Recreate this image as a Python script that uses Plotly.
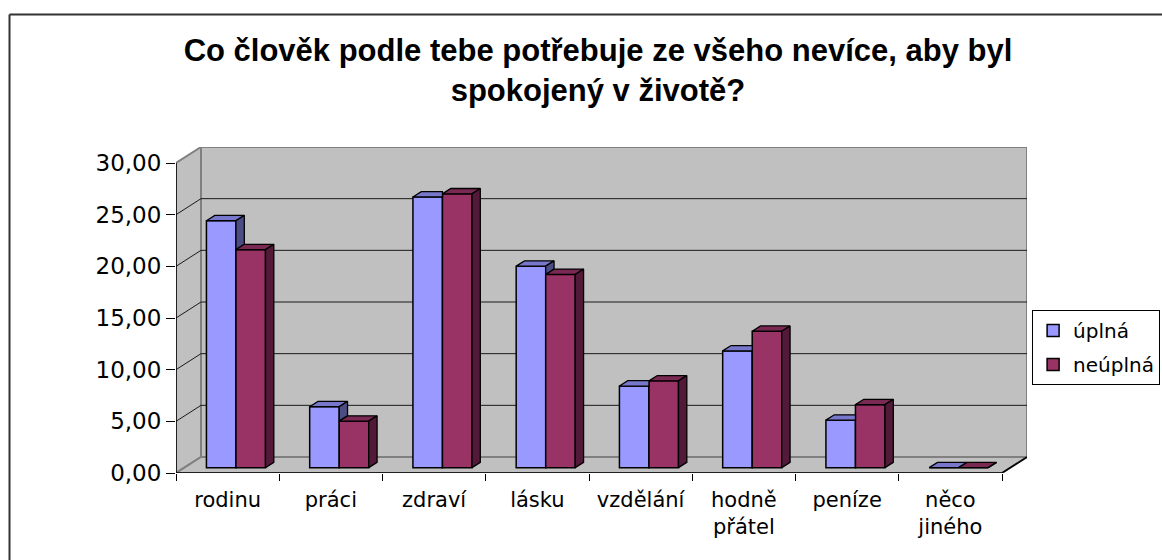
import plotly.graph_objects as go

# ---- data -------------------------------------------------------------
categories = ["rodinu", "práci", "zdraví", "lásku", "vzdělání",
              "hodně<br>přátel", "peníze", "něco<br>jiného"]
uplna = [23.9, 5.9, 26.2, 19.5, 7.9, 11.3, 4.6, 0.0]
neuplna = [21.1, 4.5, 26.5, 18.7, 8.4, 13.2, 6.1, 0.0]
series_names = ["úplná", "neúplná"]
y_ticks = [0, 5, 10, 15, 20, 25, 30]

# ---- pseudo-3D geometry (data units) -----------------------------------
Y_MAX = 30
DX = 0.2421          # depth shift along x, in category units
DY = 1.548           # depth shift along y, in value units
F0, F1 = 1 / 3, 2 / 3  # depth band occupied by the bars
W = 0.286            # width of one bar
ox, oy = F0 * DX, F0 * DY
bx, by = (F1 - F0) * DX, (F1 - F0) * DY
X0, X1 = -0.5, len(categories) - 0.5

TITLE_FONT = "Liberation Sans, Arial, sans-serif"
FONT = "DejaVu Sans, Verdana, sans-serif"
WALL = "#C0C0C0"
EDGE = "#808080"

colors = {
    "úplná": dict(front="#9999FF", top="#7777CC", side="#4D4D85"),
    "neúplná": dict(front="#993366", top="#7A2952", side="#521A38"),
}

fig = go.Figure()


def poly_path(points):
    return "M " + " L ".join(f"{x},{y}" for x, y in points) + " Z"


# walls, floor and back-wall gridlines
shapes = []
shapes.append(dict(type="path", layer="below", xref="x", yref="y",
                   path=poly_path([(X0 + DX, DY), (X1 + DX, DY),
                                   (X1 + DX, Y_MAX + DY), (X0 + DX, Y_MAX + DY)]),
                   fillcolor=WALL, line=dict(color=EDGE, width=2)))
shapes.append(dict(type="path", layer="below", xref="x", yref="y",
                   path=poly_path([(X0, 0), (X0 + DX, DY),
                                   (X0 + DX, Y_MAX + DY), (X0, Y_MAX)]),
                   fillcolor=WALL, line=dict(color=EDGE, width=2)))
shapes.append(dict(type="path", layer="below", xref="x", yref="y",
                   path=poly_path([(X0, 0), (X1, 0), (X1 + DX, DY), (X0 + DX, DY)]),
                   fillcolor=WALL, line=dict(color=EDGE, width=2)))
for v in y_ticks[1:-1]:
    shapes.append(dict(type="path", layer="below", xref="x", yref="y",
                       path=f"M {X0},{v} L {X0 + DX},{v + DY} L {X1 + DX},{v + DY}",
                       line=dict(color="#1a1a1a", width=1)))
# front axis lines and the floor's right edge
shapes.append(dict(type="line", layer="above", xref="x", yref="y",
                   x0=X0, y0=0, x1=X0, y1=Y_MAX, line=dict(color="black", width=1.5)))
shapes.append(dict(type="line", layer="above", xref="x", yref="y",
                   x0=X0, y0=0, x1=X1, y1=0, line=dict(color="black", width=1.5)))
shapes.append(dict(type="line", layer="above", xref="x", yref="y",
                   x0=X1, y0=0, x1=X1 + DX, y1=DY, line=dict(color="black", width=1.5)))
# chart frame (left and top edges; the rest runs off the page)
frame_left = (9.5 - 176) / 851
frame_top = (473 - 14.5) / 326
shapes.append(dict(type="line", xref="paper", yref="paper", layer="above",
                   x0=frame_left, x1=frame_left, y0=-0.3, y1=frame_top,
                   line=dict(color="#333333", width=2)))
shapes.append(dict(type="line", xref="paper", yref="paper", layer="above",
                   x0=frame_left, x1=1.2, y0=frame_top, y1=frame_top,
                   line=dict(color="#333333", width=2)))

# front faces of the bars
xs = list(range(len(categories)))
fig.add_trace(go.Bar(x=xs, y=uplna, base=oy, width=W, offset=ox - W,
                     name=series_names[0], legendgroup="a",
                     marker=dict(color=colors["úplná"]["front"],
                                 line=dict(color="black", width=1.5))))
fig.add_trace(go.Bar(x=xs, y=neuplna, base=oy, width=W, offset=ox,
                     name=series_names[1], legendgroup="b",
                     marker=dict(color=colors["neúplná"]["front"],
                                 line=dict(color="black", width=1.5))))


def face_trace(polys, color):
    px, py = [], []
    for poly in polys:
        for x, y in poly + [poly[0]]:
            px.append(x)
            py.append(y)
        px.append(None)
        py.append(None)
    return go.Scatter(x=px, y=py, mode="lines", fill="toself", fillcolor=color,
                      line=dict(color="black", width=1.3), showlegend=False,
                      hoverinfo="skip")


tops_a, sides_a, tops_b, sides_b = [], [], [], []
for i, (v1, v2) in enumerate(zip(uplna, neuplna)):
    L1, R1 = i + ox - W, i + ox
    L2, R2 = R1, R1 + W
    T1, T2 = v1 + oy, v2 + oy
    # first series: top face partly hidden behind the taller neighbour
    if v2 > v1:
        tops_a.append([(L1, T1), (R1, T1), (R1, T1 + by), (L1 + bx, T1 + by)])
    else:
        tops_a.append([(L1, T1), (R1, T1), (R1 + bx, T1 + by), (L1 + bx, T1 + by)])
    if v1 > v2:
        sides_a.append([(R1, T2), (R1 + bx, T2 + by), (R1 + bx, T1 + by), (R1, T1)])
    tops_b.append([(L2, T2), (R2, T2), (R2 + bx, T2 + by), (L2 + bx, T2 + by)])
    sides_b.append([(R2, oy), (R2 + bx, oy + by), (R2 + bx, T2 + by), (R2, T2)])

fig.add_trace(face_trace(tops_a, colors["úplná"]["top"]))
if sides_a:
    fig.add_trace(face_trace(sides_a, colors["úplná"]["side"]))
fig.add_trace(face_trace(tops_b, colors["neúplná"]["top"]))
fig.add_trace(face_trace(sides_b, colors["neúplná"]["side"]))

fig.update_layout(
    width=1162, height=560,
    margin=dict(l=176, r=135, t=147, b=87, autoexpand=False),
    paper_bgcolor="white", plot_bgcolor="white",
    barmode="overlay",
    separators=", ",
    font=dict(family=FONT, color="black"),
    title=dict(text="<b>Co člověk podle tebe potřebuje ze všeho nevíce, aby byl<br>spokojený v životě?</b>",
               x=0.5146, xanchor="center", xref="container",
               y=1 - 61 / 560, yanchor="top", yref="container",
               font=dict(family=TITLE_FONT, size=31, color="black")),
    xaxis=dict(range=[X0, X1 + DX], tickvals=xs, ticktext=categories,
               ticks="", showgrid=False, zeroline=False, showline=False,
               tickfont=dict(family=FONT, size=21, color="black"),
               ticklabelstandoff=12,
               minor=dict(tickvals=[k - 0.5 for k in range(len(categories) + 1)],
                          ticks="outside", ticklen=7, tickcolor="black",
                          tickwidth=1, showgrid=False)),
    yaxis=dict(range=[0, Y_MAX + DY], tickvals=y_ticks, tickformat=".2f",
               ticks="outside", ticklen=9, tickcolor="black", tickwidth=1,
               showgrid=False, zeroline=False, showline=False,
               tickfont=dict(family=FONT, size=23, color="black")),
    legend=dict(x=1.006, y=0.5, xanchor="left", yanchor="top",
                bgcolor="white", bordercolor="black", borderwidth=1,
                font=dict(family=FONT, size=20, color="black"),
                tracegroupgap=5),
    shapes=shapes,
)

fig.write_html("out.html")
